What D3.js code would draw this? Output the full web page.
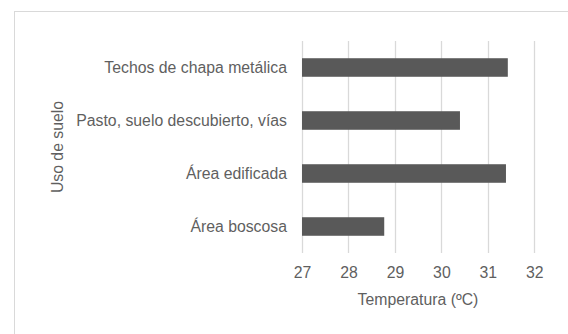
<!DOCTYPE html>
<html><head><meta charset="utf-8">
<script src="https://cdn.jsdelivr.net/npm/d3@7"></script>
<style>html,body{margin:0;padding:0;background:#fff;}svg{display:block;font-family:"Liberation Sans",Arial,sans-serif;}</style>
</head><body>
<svg id="c" width="568" height="334"></svg>
<script>
const categories = ["Techos de chapa metálica", "Pasto, suelo descubierto, vías", "Área edificada", "Área boscosa"];
const values = [31.43, 30.40, 31.39, 28.77];
const xTicks = [27, 28, 29, 30, 31, 32];
const xTitle = "Temperatura (ºC)";
const yTitle = "Uso de suelo";

const svg = d3.select("#c");
const textColor = "#5f5f5f", gridColor = "#d9d9d9", barColor = "#595959";
const fs = 15.8;

svg.append("rect").attr("x", 14.5).attr("y", 11.5).attr("width", 600).attr("height", 400)
  .attr("fill", "none").attr("stroke", gridColor).attr("stroke-width", 1);

const x = d3.scaleLinear().domain([27, 32]).range([302, 534.3]);
const y = d3.scaleBand().domain(categories).range([41, 253]).paddingInner(0.65).paddingOuter(0.325);

const g = svg.append("g");
g.selectAll("line.grid").data(xTicks).join("line").attr("class", "grid")
  .attr("x1", d => Math.round(x(d)) + 0.5).attr("x2", d => Math.round(x(d)) + 0.5)
  .attr("y1", 41).attr("y2", 253).attr("stroke", gridColor).attr("stroke-width", 1.3);

g.selectAll("rect.bar").data(values).join("rect").attr("class", "bar")
  .attr("x", x(27)).attr("y", (d, i) => y(categories[i]))
  .attr("width", d => x(d) - x(27)).attr("height", y.bandwidth()).attr("fill", barColor);

const xAxis = svg.append("g").attr("transform", "translate(0,253)")
  .call(d3.axisBottom(x).tickValues(xTicks).tickSize(0).tickPadding(14).tickFormat(d3.format("d")));
xAxis.select(".domain").remove();
xAxis.selectAll("text").attr("fill", textColor).style("font-size", fs + "px").style("font-family", "'Liberation Sans',Arial,sans-serif");

const yAxis = svg.append("g").attr("transform", "translate(302,0)")
  .call(d3.axisLeft(y).tickSize(0).tickPadding(15));
yAxis.select(".domain").remove();
yAxis.selectAll("text").attr("fill", textColor).style("font-size", fs + "px").style("font-family", "'Liberation Sans',Arial,sans-serif");

svg.append("text").attr("x", 418).attr("y", 299).attr("dy", "0.35em").attr("text-anchor", "middle")
  .attr("fill", textColor).style("font-size", fs + "px").text(xTitle);
svg.append("text").attr("transform", "translate(57,147) rotate(-90)").attr("dy", "0.35em").attr("text-anchor", "middle")
  .attr("fill", textColor).style("font-size", fs + "px").text(yTitle);
</script>
</body></html>
